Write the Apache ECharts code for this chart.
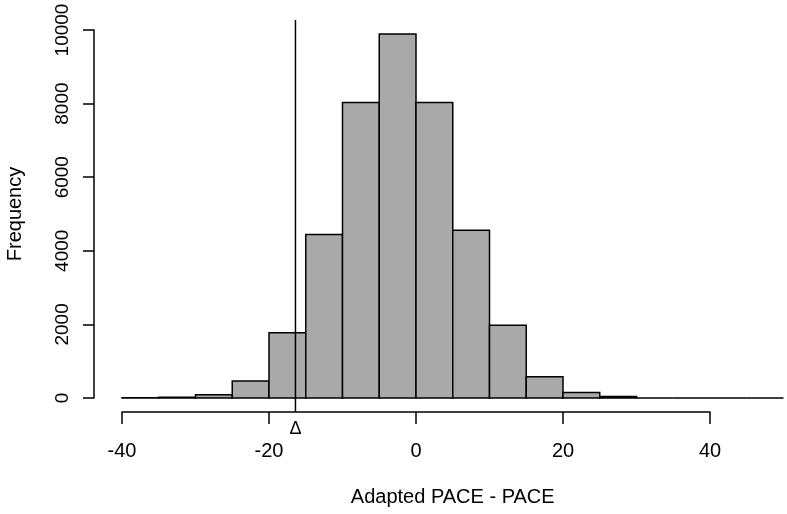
<!DOCTYPE html>
<html>
<head>
<meta charset="utf-8">
<script src="https://cdn.jsdelivr.net/npm/echarts@6/dist/echarts.min.js"></script>
<style>
  html, body { margin: 0; padding: 0; background: #fff; }
  #main { width: 787px; height: 514px; }
</style>
</head>
<body>
<div id="main"></div>
<script>
// histogram bins (width 5) and counts
var binStarts = [-40, -35, -30, -25, -20, -15, -10, -5, 0, 5, 10, 15, 20, 25, 30, 35, 40, 45];
var binWidth = 5;
var counts = [5, 20, 85, 460, 1770, 4440, 8030, 9890, 8030, 4560, 1980, 580, 150, 40, 0, 0, 0, 0];
var yTicks = [0, 2000, 4000, 6000, 8000, 10000];
var xTicks = [-40, -20, 0, 20, 40];
var deltaX = -16.4; // vertical reference line

var font = "'Liberation Sans', Arial, sans-serif";

var chart = echarts.init(document.getElementById("main"));

var barData = binStarts.map(function (s, i) {
  return [s, s + binWidth, counts[i]];
});

var option = {
  backgroundColor: "#fff",
  animation: false,
  textStyle: { fontFamily: font, color: "#000" },
  grid: [
    { left: 122, right: 3.5, top: 30, bottom: 116, outerBoundsMode: "none" },
    { left: 122, width: 588, top: 20, bottom: 102, outerBoundsMode: "none" }
  ],
  xAxis: [
    {
      // plot-region axis: only carries the title, centred like R does
      gridIndex: 0, type: "value", min: -40, max: 50,
      axisLine: { show: false }, axisTick: { show: false },
      axisLabel: { show: false }, splitLine: { show: false },
      name: "Adapted PACE - PACE", nameLocation: "middle", nameGap: 89,
      nameTextStyle: { color: "#000", fontSize: 20, fontFamily: font }
    },
    {
      gridIndex: 1, type: "value", min: -40, max: 40, interval: 20,
      axisLine: { show: true, onZero: false, lineStyle: { color: "#000", width: 1.5 } },
      axisTick: { show: true, length: 12, lineStyle: { color: "#000", width: 1.5 } },
      axisLabel: { color: "#000", fontSize: 20, margin: 29, fontFamily: font,
        customValues: xTicks },
      splitLine: { show: false }
    }
  ],
  yAxis: [
    {
      gridIndex: 0, type: "value", min: 0, max: 10000, interval: 2000, offset: 28,
      axisLine: { show: true, onZero: false, lineStyle: { color: "#000", width: 1.5 } },
      axisTick: { show: true, length: 11, lineStyle: { color: "#000", width: 1.5 } },
      axisLabel: { color: "#000", fontSize: 19, rotate: 90, margin: 22, fontFamily: font,
        customValues: yTicks,
        formatter: function (v) { return String(v); } },
      splitLine: { show: false },
      name: "Frequency", nameLocation: "middle", nameGap: 69,
      nameTextStyle: { color: "#000", fontSize: 20, fontFamily: font }
    },
    { gridIndex: 1, type: "value", min: 0, max: 1, show: false }
  ],
  series: [
    {
      type: "custom",
      xAxisIndex: 0, yAxisIndex: 0,
      data: barData,
      renderItem: function (params, api) {
        var p0 = api.coord([api.value(0), 0]);
        var p1 = api.coord([api.value(1), api.value(2)]);
        return {
          type: "rect",
          shape: { x: p0[0], y: p1[1], width: p1[0] - p0[0], height: p0[1] - p1[1] },
          style: { fill: "#a9a9a9", stroke: "#000", lineWidth: 1.5 }
        };
      }
    },
    {
      type: "line",
      xAxisIndex: 1, yAxisIndex: 1,
      data: [[deltaX, 0], [deltaX, 1]],
      symbol: "circle", symbolSize: 0.1, showSymbol: true,
      lineStyle: { color: "#000", width: 1.5 },
      label: {
        show: true, position: "bottom", distance: 8,
        formatter: function (p) { return p.dataIndex === 0 ? "Δ" : ""; },
        color: "#000", fontSize: 18, fontFamily: font
      }
    }
  ]
};

chart.setOption(option);
</script>
</body>
</html>
